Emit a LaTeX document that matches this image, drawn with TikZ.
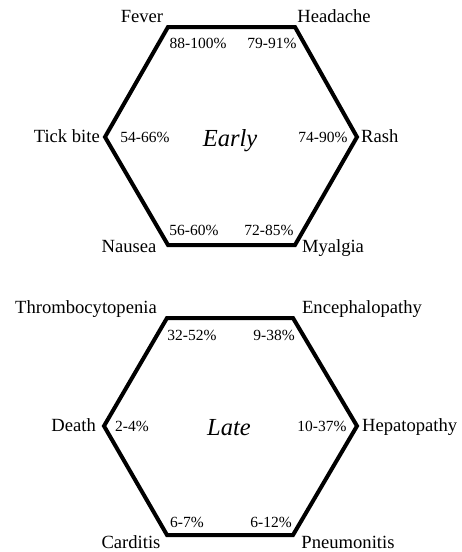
\documentclass[tikz,border=0pt]{standalone}
\usepackage{fontspec}
\setmainfont{Liberation Serif}
\begin{document}
\begin{tikzpicture}[x=1pt,y=-1pt,
  hexline/.style={line width=4pt,line join=miter},
  lbl/.style={inner sep=0pt,anchor=base,font=\fontsize{18.6}{22}\selectfont},
  pct/.style={inner sep=0pt,anchor=base,font=\fontsize{15.5}{18}\selectfont},
  ctr/.style={inner sep=0pt,anchor=base,font=\fontsize{24.5}{28}\selectfont\itshape}]
\useasboundingbox (0,0) rectangle (461,552);
% top hexagon
\coordinate (e1) at (168,27);
\coordinate (e2) at (295,27);
\coordinate (e3) at (357,137);
\coordinate (e4) at (295,245);
\coordinate (e5) at (168,245);
\coordinate (e6) at (105,137);
\draw[hexline] (e1) -- (e2) -- (e3) -- (e4) -- (e5) -- (e6) -- cycle;
\node[lbl] (fever) at (142,22) {Fever};
\node[lbl] (headache) at (334,22) {Headache};
\node[lbl,anchor=base east] (tick) at (100,142) {Tick bite};
\node[lbl,anchor=base west] (rash) at (361,142) {Rash};
\node[lbl] (nausea) at (129,252) {Nausea};
\node[lbl] (myalgia) at (333,252) {Myalgia};
\node[pct] (p1) at (198,48) {88-100\%};
\node[pct] (p2) at (272,48) {79-91\%};
\node[pct] (p3) at (145,142) {54-66\%};
\node[pct] (p4) at (323,142) {74-90\%};
\node[pct] (p5) at (194,235) {56-60\%};
\node[pct] (p6) at (269,235) {72-85\%};
\node[ctr] (early) at (230,146) {Early};
% bottom hexagon
\coordinate (l1) at (167,318);
\coordinate (l2) at (293,318);
\coordinate (l3) at (357,426);
\coordinate (l4) at (293,535);
\coordinate (l5) at (167,535);
\coordinate (l6) at (104,426);
\draw[hexline] (l1) -- (l2) -- (l3) -- (l4) -- (l5) -- (l6) -- cycle;
\node[lbl] (thromb) at (86,313) {Thrombocytopenia};
\node[lbl] (enceph) at (362,313) {Encephalopathy};
\node[lbl,anchor=base east] (death) at (96,431) {Death};
\node[lbl,anchor=base west] (hepat) at (362,431) {Hepatopathy};
\node[lbl] (carditis) at (131,548) {Carditis};
\node[lbl] (pneum) at (348,548) {Pneumonitis};
\node[pct] (q1) at (192,340) {32-52\%};
\node[pct] (q2) at (274,340) {9-38\%};
\node[pct] (q3) at (132,431) {2-4\%};
\node[pct] (q4) at (322,431) {10-37\%};
\node[pct] (q5) at (187,527) {6-7\%};
\node[pct] (q6) at (271,527) {6-12\%};
\node[ctr] (late) at (229,435) {Late};
\end{tikzpicture}
\end{document}
